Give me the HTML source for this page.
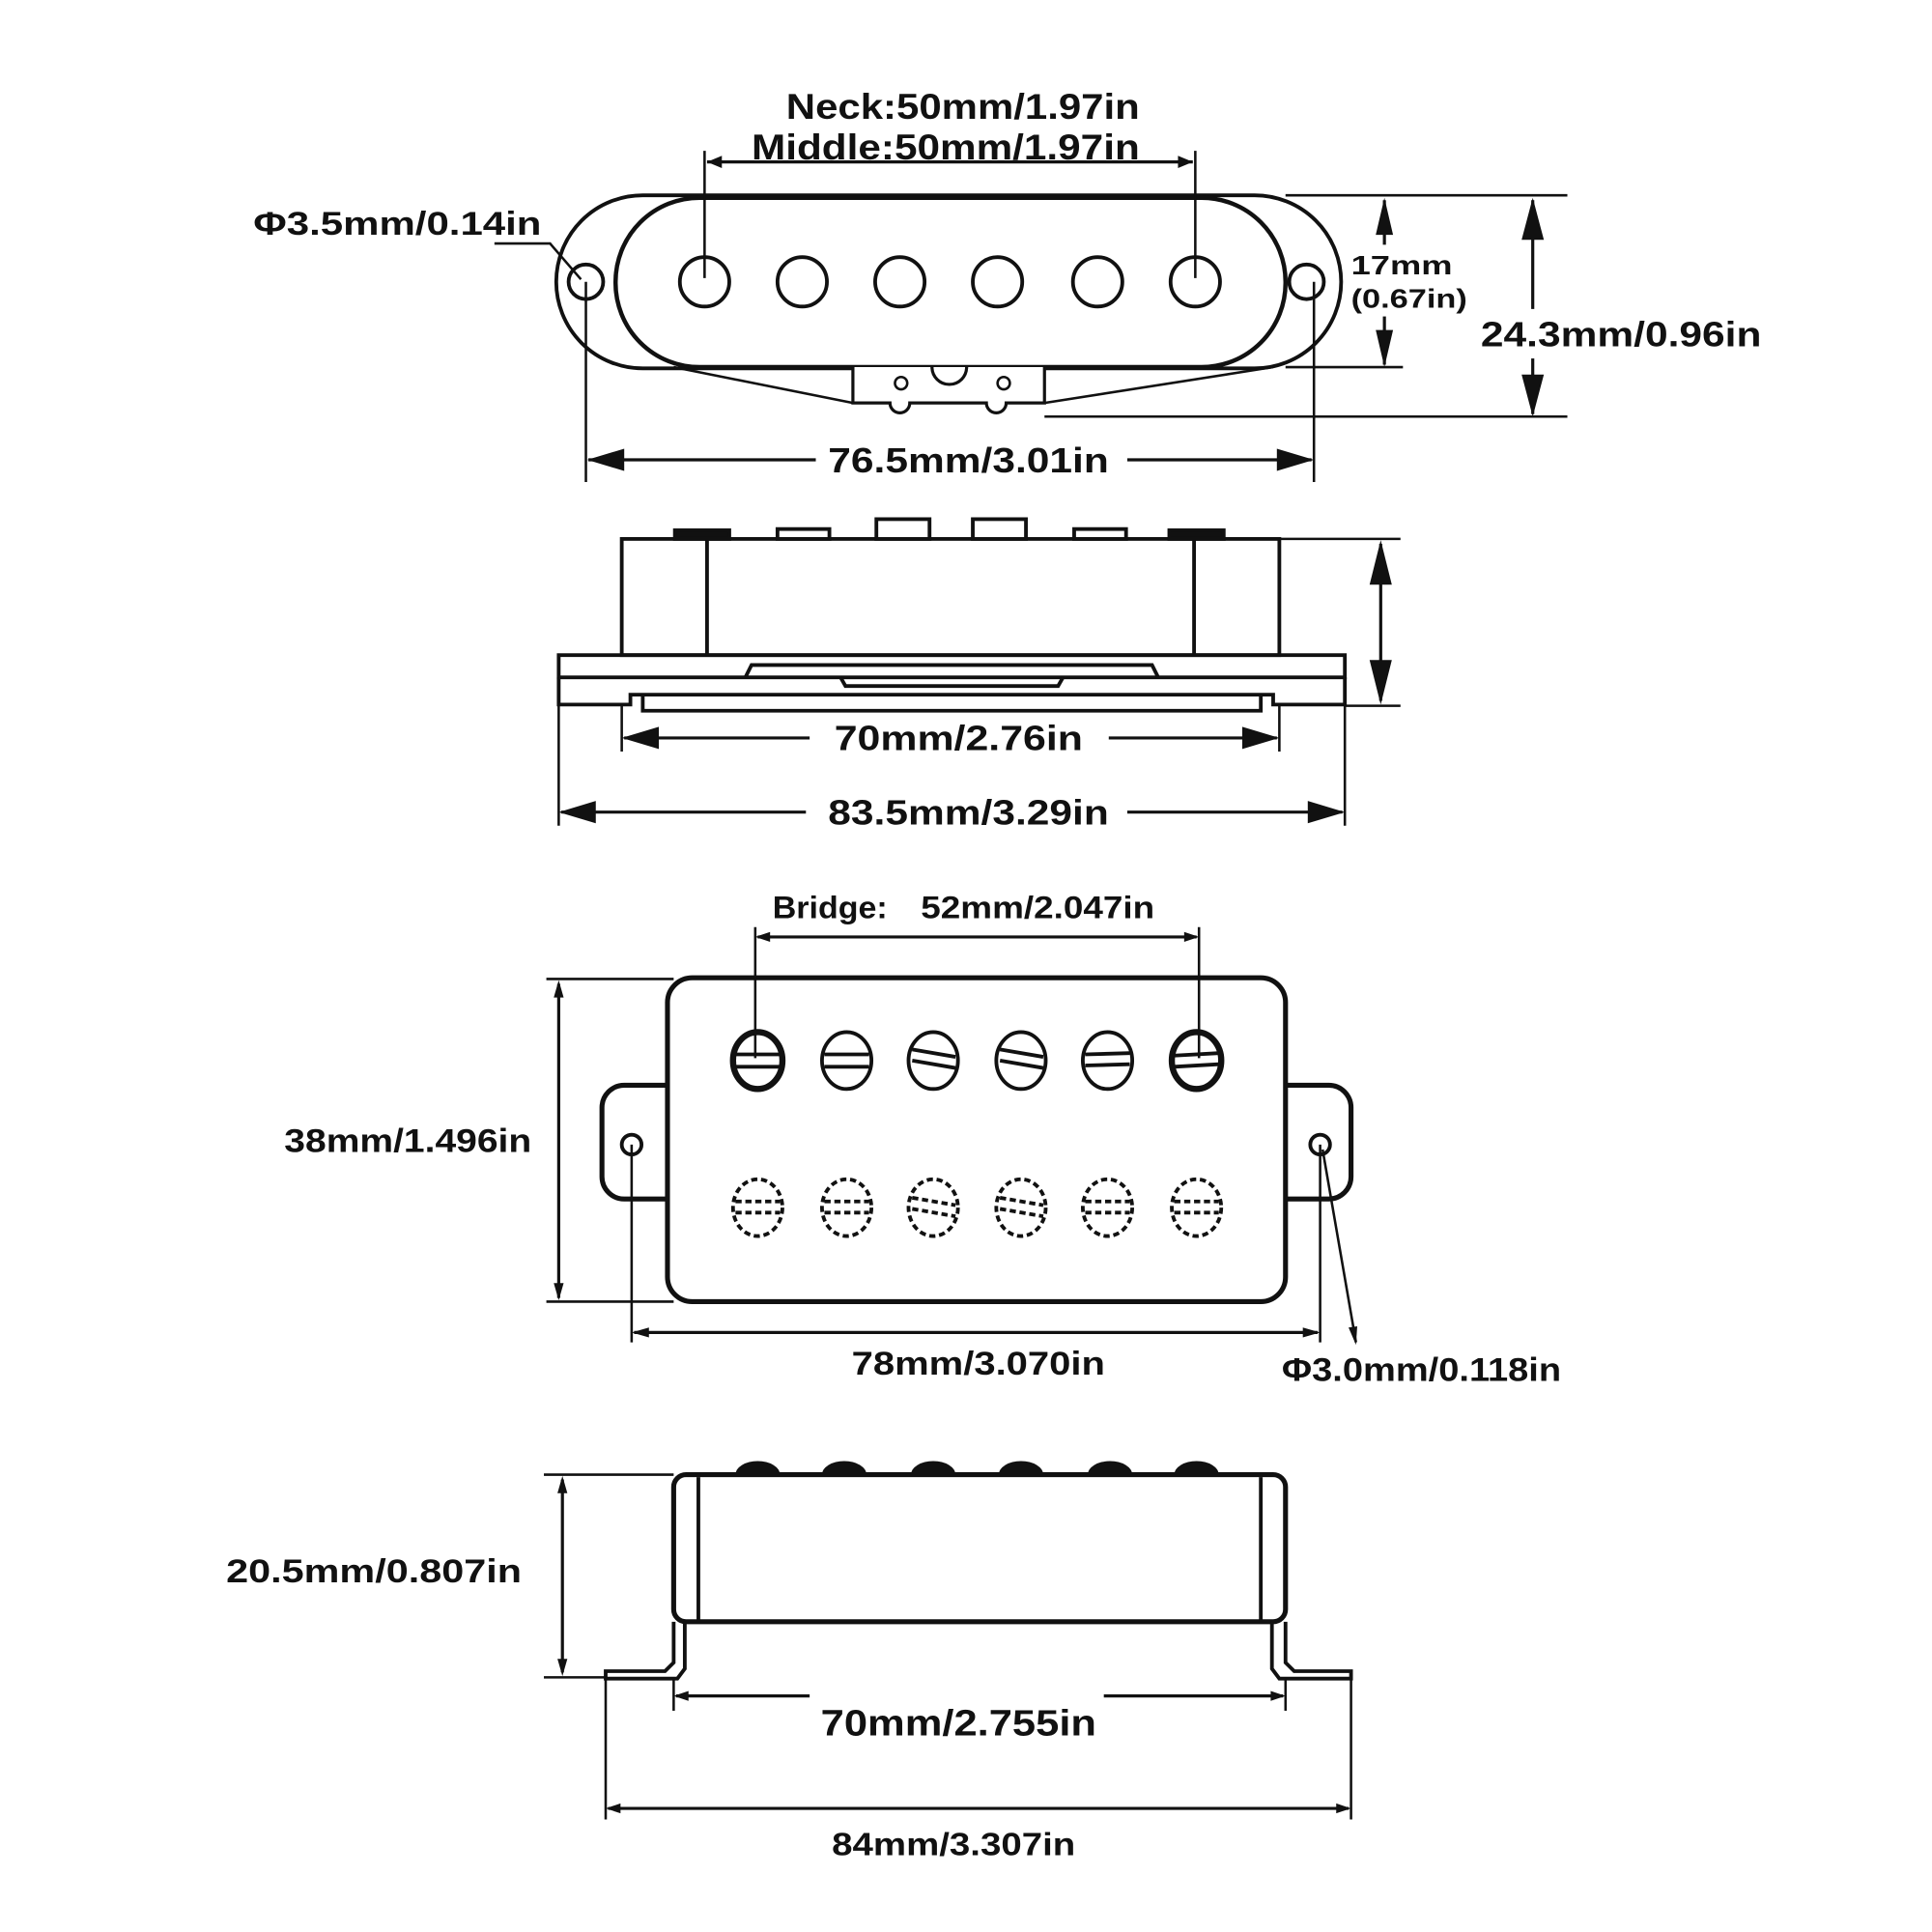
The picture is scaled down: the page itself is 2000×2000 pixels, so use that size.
<!DOCTYPE html>
<html><head><meta charset="utf-8"><style>
html,body{margin:0;padding:0;background:#fff}
svg{display:block}
text{font-family:"Liberation Sans",sans-serif;font-weight:bold;fill:#111}
</style></head><body>
<svg width="2000" height="2000" viewBox="0 0 1563 1563" xmlns="http://www.w3.org/2000/svg">
<g fill="none" stroke="#111">
<!-- SINGLE COIL TOP VIEW -->
<rect x="450" y="158" width="635" height="140" rx="70" ry="70" stroke-width="3"/>
<rect x="498" y="160" width="542" height="137" rx="68" ry="68" stroke-width="3.5" fill="#fff"/>
<g stroke-width="3">
<circle cx="570" cy="228" r="20"/><circle cx="649" cy="228" r="20"/><circle cx="728" cy="228" r="20"/>
<circle cx="807" cy="228" r="20"/><circle cx="888" cy="228" r="20"/><circle cx="967" cy="228" r="20"/>
<circle cx="474" cy="228" r="14"/><circle cx="1057" cy="228" r="14"/>
</g>
<path d="M545 297 L690 326 M1030 297 L845 326" stroke-width="2"/>
<path d="M690 297 V326 H720 a8 8 0 0 0 16 0 H798 a8 8 0 0 0 16 0 H845 V297" stroke-width="2.5" fill="#fff"/>
<path d="M754 297 a14 14 0 0 0 28 0" stroke-width="2.5"/>
<circle cx="729" cy="310" r="5" stroke-width="2"/><circle cx="812" cy="310" r="5" stroke-width="2"/>
<g stroke-width="2">
<line x1="570" y1="122" x2="570" y2="225"/><line x1="967" y1="122" x2="967" y2="225"/>
<line x1="1040" y1="158" x2="1268" y2="158"/><line x1="1040" y1="297" x2="1135" y2="297"/>
<line x1="845" y1="337" x2="1268" y2="337"/>
<line x1="474" y1="228" x2="474" y2="390"/><line x1="1063" y1="228" x2="1063" y2="390"/>
<polyline points="400,197 445,197 470,226"/>
</g>
<g stroke-width="2.5">
<line x1="572" y1="131" x2="965" y2="131"/>
<line x1="1120" y1="162" x2="1120" y2="198"/><line x1="1120" y1="256" x2="1120" y2="295"/>
<line x1="1240" y1="162" x2="1240" y2="250"/><line x1="1240" y1="290" x2="1240" y2="335"/>
<line x1="476" y1="372" x2="660" y2="372"/><line x1="912" y1="372" x2="1061" y2="372"/>
</g>

<!-- SIDE VIEW SINGLE -->
<g stroke-width="3">
<rect x="503" y="436" width="532" height="94"/>
<line x1="572" y1="436" x2="572" y2="530"/><line x1="966" y1="436" x2="966" y2="530"/>
<rect x="452" y="530" width="636" height="18"/>
<path d="M452 548 V570 H510 V562 H1030 V570 H1088 V548"/>
<path d="M520 562 V575 H1020 V562"/>
<path d="M603 548 L608 538 H932 L937 548"/>
<path d="M680 548 L684 555 H856 L860 548"/>
</g>
<g fill="#fff" stroke-width="3">
<rect x="546" y="429" width="44" height="7" fill="#111"/>
<rect x="629" y="428" width="42" height="8"/>
<rect x="709" y="420" width="43" height="16"/>
<rect x="787" y="420" width="43" height="16"/>
<rect x="869" y="428" width="42" height="8"/>
<rect x="946" y="429" width="44" height="7" fill="#111"/>
</g>
<g stroke-width="2">
<line x1="1035" y1="436" x2="1133" y2="436"/><line x1="1088" y1="571" x2="1133" y2="571"/>
<line x1="452" y1="548" x2="452" y2="668"/><line x1="1088" y1="548" x2="1088" y2="668"/>
<line x1="503" y1="570" x2="503" y2="608"/><line x1="1035" y1="570" x2="1035" y2="608"/>
</g>
<g stroke-width="2.5">
<line x1="1117" y1="440" x2="1117" y2="567"/>
<line x1="505" y1="597" x2="655" y2="597"/><line x1="897" y1="597" x2="1033" y2="597"/>
<line x1="454" y1="657" x2="652" y2="657"/><line x1="912" y1="657" x2="1086" y2="657"/>
</g>

<!-- HUMBUCKER TOP -->
<rect x="487" y="878" width="80" height="92" rx="18" stroke-width="4"/>
<rect x="1013" y="878" width="80" height="92" rx="18" stroke-width="4"/>
<rect x="540" y="791" width="500" height="262" rx="20" stroke-width="4" fill="#fff"/>
<circle cx="511" cy="926" r="8" stroke-width="3"/><circle cx="1068" cy="926" r="8" stroke-width="3"/>
<g stroke-width="3">
<ellipse cx="613" cy="858" rx="20" ry="23" stroke-width="5"/>
<ellipse cx="685" cy="858" rx="20" ry="23"/>
<ellipse cx="755" cy="858" rx="20" ry="23"/>
<ellipse cx="826" cy="858" rx="20" ry="23"/>
<ellipse cx="896" cy="858" rx="20" ry="23"/>
<ellipse cx="968" cy="858" rx="20" ry="23" stroke-width="5"/>
<path d="M595 853 H631 M595 863 H631"/><path d="M667 853 H703 M667 863 H703"/>
<path d="M738 849 L773 855 M738 858 L773 864"/><path d="M809 849 L844 855 M809 858 L844 864"/>
<path d="M878 853 L914 852 M878 862 L914 861"/><path d="M950 854 L986 852 M950 863 L986 861"/>
</g>
<g stroke-width="3" stroke-dasharray="5 3">
<ellipse cx="613" cy="977" rx="20" ry="23"/><ellipse cx="685" cy="977" rx="20" ry="23"/>
<ellipse cx="755" cy="977" rx="20" ry="23"/><ellipse cx="826" cy="977" rx="20" ry="23"/>
<ellipse cx="896" cy="977" rx="20" ry="23"/><ellipse cx="968" cy="977" rx="20" ry="23"/>
<path d="M595 972 H631 M595 981 H631 M667 972 H703 M667 981 H703 M738 969 L773 975 M738 978 L773 984 M809 969 L844 975 M809 978 L844 984 M878 972 H914 M878 981 H914 M950 972 H986 M950 981 H986"/>
</g>
<g stroke-width="2">
<line x1="611" y1="750" x2="611" y2="856"/><line x1="970" y1="750" x2="970" y2="856"/>
<line x1="442" y1="792" x2="545" y2="792"/><line x1="442" y1="1053" x2="545" y2="1053"/>
<line x1="511" y1="926" x2="511" y2="1086"/><line x1="1068" y1="926" x2="1068" y2="1086"/>
<line x1="1070" y1="930" x2="1097" y2="1086"/>
</g>
<g stroke-width="2.5">
<line x1="613" y1="758" x2="968" y2="758"/>
<line x1="452" y1="796" x2="452" y2="1050"/>
<line x1="513" y1="1078" x2="1066" y2="1078"/>
</g>

<!-- HUMBUCKER SIDE -->
<g fill="#111" stroke="none">
<ellipse cx="613" cy="1193" rx="18" ry="11"/><ellipse cx="683" cy="1193" rx="18" ry="11"/>
<ellipse cx="755" cy="1193" rx="18" ry="11"/><ellipse cx="826" cy="1193" rx="18" ry="11"/>
<ellipse cx="898" cy="1193" rx="18" ry="11"/><ellipse cx="968" cy="1193" rx="18" ry="11"/>
</g>
<rect x="545" y="1193" width="495" height="119" rx="10" stroke-width="4" fill="#fff"/>
<g stroke-width="3">
<line x1="565" y1="1195" x2="565" y2="1312"/><line x1="1020" y1="1195" x2="1020" y2="1312"/>
<path d="M545 1312 V1345 L538 1352 H490 V1358 H548 L554 1350 V1312"/>
<path d="M1040 1312 V1345 L1047 1352 H1093 V1358 H1035 L1029 1350 V1312"/>
</g>
<g stroke-width="2">
<line x1="440" y1="1193" x2="545" y2="1193"/><line x1="440" y1="1357" x2="490" y2="1357"/>
<line x1="545" y1="1358" x2="545" y2="1384"/><line x1="1040" y1="1358" x2="1040" y2="1384"/>
<line x1="490" y1="1358" x2="490" y2="1472"/><line x1="1093" y1="1358" x2="1093" y2="1472"/>
</g>
<g stroke-width="2.5">
<line x1="455" y1="1197" x2="455" y2="1353"/>
<line x1="547" y1="1372" x2="655" y2="1372"/><line x1="893" y1="1372" x2="1038" y2="1372"/>
<line x1="492" y1="1463" x2="1091" y2="1463"/>
</g>
</g>

<!-- arrowheads -->
<g fill="#111">
<path d="M572 131 l12 -5 v10z M965 131 l-12 -5 v10z"/>
<path d="M1120 160 l-7 30 h14z M1120 297 l-7 -30 h14z"/>
<path d="M1240 160 l-9 34 h18z M1240 337 l-9 -34 h18z"/>
<path d="M475 372 l30 -9 v18z M1063 372 l-30 -9 v18z"/>
<path d="M1117 437 l-9 36 h18z M1117 570 l-9 -36 h18z"/>
<path d="M503 597 l30 -9 v18z M1035 597 l-30 -9 v18z"/>
<path d="M452 657 l30 -9 v18z M1088 657 l-30 -9 v18z"/>
<path d="M611 758 l12 -4 v8z M970 758 l-12 -4 v8z"/>
<path d="M452 793 l-4 14 h8z M452 1052 l-4 -14 h8z"/>
<path d="M511 1078 l14 -4 v8z M1068 1078 l-14 -4 v8z"/>
<path d="M1097 1088 l-6 -14 l7 -1z"/>
<path d="M455 1194 l-4 14 h8z M455 1356 l-4 -14 h8z"/>
<path d="M545 1372 l12 -4 v8z M1040 1372 l-12 -4 v8z"/>
<path d="M490 1463 l12 -4 v8z M1093 1463 l-12 -4 v8z"/>
</g>

<!-- labels -->
<text x="636" y="96" font-size="29" textLength="286" lengthAdjust="spacingAndGlyphs">Neck:50mm/1.97in</text>
<text x="608" y="129" font-size="29" textLength="314" lengthAdjust="spacingAndGlyphs">Middle:50mm/1.97in</text>
<text x="205" y="190" font-size="27" textLength="233" lengthAdjust="spacingAndGlyphs">Φ3.5mm/0.14in</text>
<text x="1093" y="222" font-size="22" textLength="82" lengthAdjust="spacingAndGlyphs">17mm</text>
<text x="1093" y="249" font-size="22" textLength="94" lengthAdjust="spacingAndGlyphs">(0.67in)</text>
<text x="1198" y="280" font-size="28" textLength="227" lengthAdjust="spacingAndGlyphs">24.3mm/0.96in</text>
<text x="670" y="382" font-size="28" textLength="227" lengthAdjust="spacingAndGlyphs">76.5mm/3.01in</text>
<text x="675" y="607" font-size="28" textLength="201" lengthAdjust="spacingAndGlyphs">70mm/2.76in</text>
<text x="670" y="667" font-size="28" textLength="227" lengthAdjust="spacingAndGlyphs">83.5mm/3.29in</text>
<text x="625" y="743" font-size="25" textLength="93" lengthAdjust="spacingAndGlyphs">Bridge:</text>
<text x="745" y="743" font-size="25" textLength="189" lengthAdjust="spacingAndGlyphs">52mm/2.047in</text>
<text x="230" y="932" font-size="27" textLength="200" lengthAdjust="spacingAndGlyphs">38mm/1.496in</text>
<text x="689" y="1112" font-size="27" textLength="205" lengthAdjust="spacingAndGlyphs">78mm/3.070in</text>
<text x="1037" y="1117" font-size="27" textLength="226" lengthAdjust="spacingAndGlyphs">Φ3.0mm/0.118in</text>
<text x="183" y="1280" font-size="27" textLength="239" lengthAdjust="spacingAndGlyphs">20.5mm/0.807in</text>
<text x="664" y="1404" font-size="30" textLength="223" lengthAdjust="spacingAndGlyphs">70mm/2.755in</text>
<text x="673" y="1501" font-size="26" textLength="197" lengthAdjust="spacingAndGlyphs">84mm/3.307in</text>
</svg>
</body></html>
